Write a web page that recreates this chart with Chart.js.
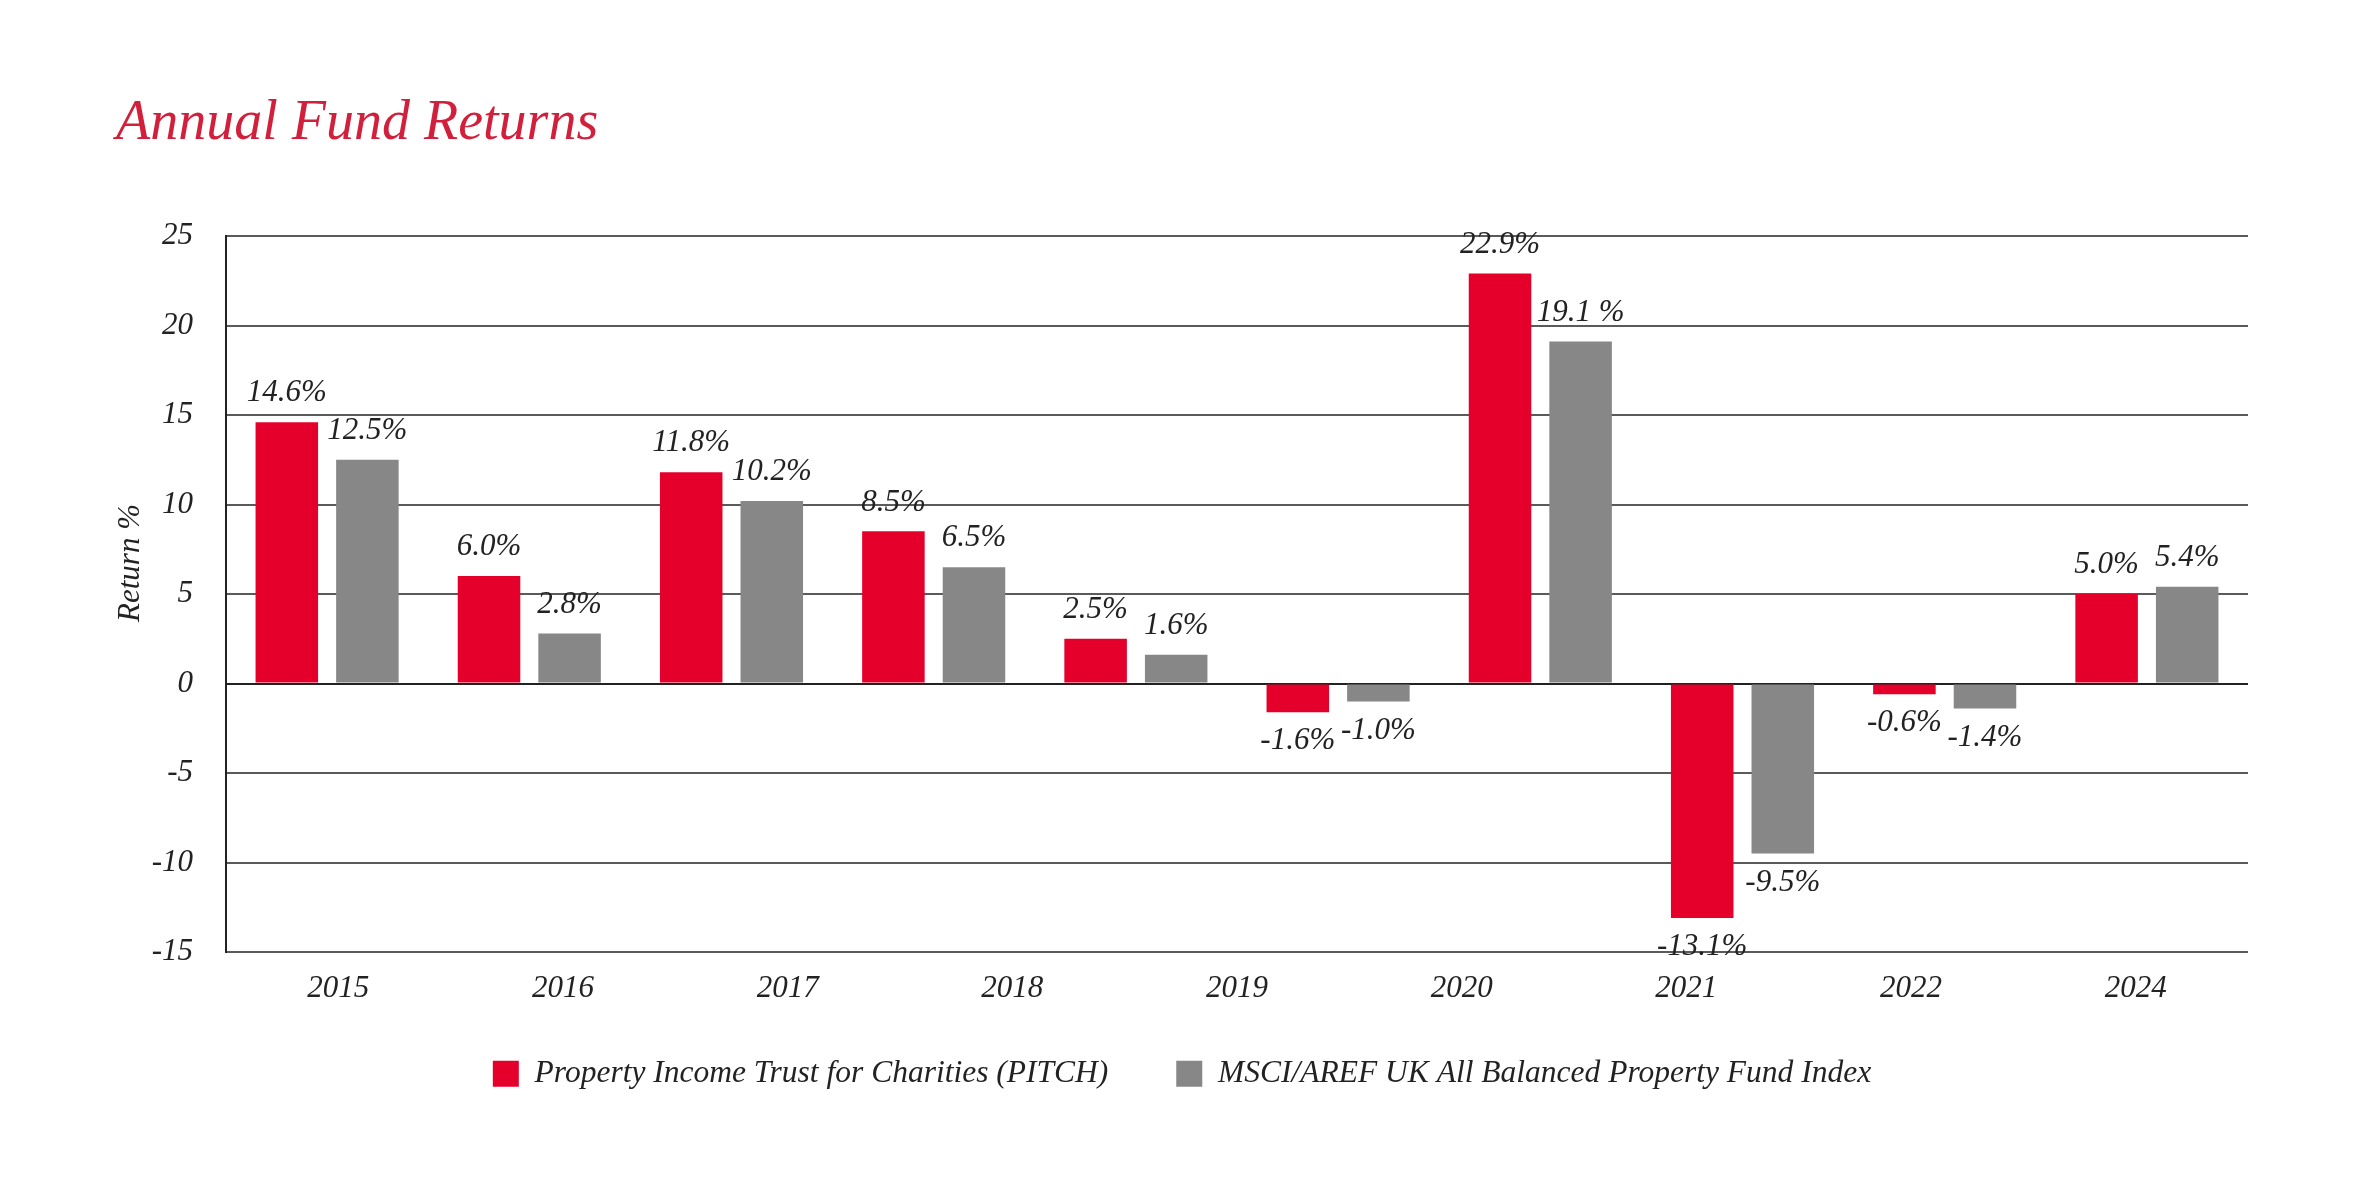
<!DOCTYPE html>
<html>
<head>
<meta charset="utf-8">
<script src="https://cdn.jsdelivr.net/npm/chart.js@4.4.1/dist/chart.umd.min.js"></script>
<style>
  html, body { margin: 0; padding: 0; background: #ffffff; }
  #wrap { width: 2362px; height: 1181px; position: relative; }
  canvas { display: block; }
</style>
</head>
<body>
<div id="wrap"><canvas id="c" width="2362" height="1181"></canvas></div>
<script>
// ---- Data ----
const periods = ['P1', 'P2', 'P3', 'P4', 'P5', 'P6', 'P7', 'P8', 'P9', 'P10'];
const tickLabels = ['2015', '2016', '2017', '2018', '2019', '2020', '2021', '2022', '2024'];
const pitchValues = [14.6, 6.0, 11.8, 8.5, 2.5, -1.6, 22.9, -13.1, -0.6, 5.0];
const msciValues = [12.5, 2.8, 10.2, 6.5, 1.6, -1.0, 19.1, -9.5, -1.4, 5.4];
const pitchText = ['14.6%', '6.0%', '11.8%', '8.5%', '2.5%', '-1.6%', '22.9%', '-13.1%', '-0.6%', '5.0%'];
const msciText = ['12.5%', '2.8%', '10.2%', '6.5%', '1.6%', '-1.0%', '19.1 %', '-9.5%', '-1.4%', '5.4%'];
const seriesNames = ['Property Income Trust for Charities (PITCH)', 'MSCI/AREF UK All Balanced Property Fund Index'];
const yTitle = 'Return %';
const chartTitle = 'Annual Fund Returns';

const SERIF = '"Liberation Serif", "DejaVu Serif", serif';
const RED = '#e4002b';
const GREY = '#878787';
const TEXT = '#222222';

const valueLabels = {
  id: 'valueLabels',
  afterDatasetsDraw(chart) {
    const ctx = chart.ctx;
    const texts = [pitchText, msciText];
    ctx.save();
    ctx.font = 'italic 31px ' + SERIF;
    ctx.fillStyle = TEXT;
    ctx.textAlign = 'center';
    ctx.textBaseline = 'middle';
    chart.data.datasets.forEach((ds, di) => {
      const meta = chart.getDatasetMeta(di);
      meta.data.forEach((el, i) => {
        const v = ds.data[i];
        const y = v >= 0 ? el.y - 29 : el.y + 29;
        ctx.fillText(texts[di][i], el.x, y);
      });
    });
    ctx.restore();
  }
};

new Chart(document.getElementById('c'), {
  type: 'bar',
  data: {
    labels: periods,
    datasets: [
      { label: seriesNames[0], data: pitchValues, backgroundColor: RED, xAxisID: 'x', yAxisID: 'y',
        barPercentage: 0.776, categoryPercentage: 0.797 },
      { label: seriesNames[1], data: msciValues, backgroundColor: GREY, xAxisID: 'x', yAxisID: 'y',
        barPercentage: 0.776, categoryPercentage: 0.797 }
    ]
  },
  options: {
    responsive: false,
    animation: false,
    devicePixelRatio: 1,
    layout: { padding: { left: 116, right: 114, top: 50, bottom: 81.5 } },
    plugins: {
      title: {
        display: true,
        text: chartTitle,
        align: 'start',
        color: '#d21f3c',
        font: { family: SERIF, size: 56, style: 'italic', weight: 'normal', lineHeight: 1.2 },
        padding: { top: 41, bottom: 77.8 }
      },
      legend: {
        display: true,
        position: 'bottom',
        labels: {
          color: TEXT,
          boxWidth: 26,
          boxHeight: 26,
          padding: 68,
          font: { family: SERIF, size: 31.5, style: 'italic' }
        }
      },
      tooltip: { enabled: false }
    },
    scales: {
      x: {
        type: 'category',
        display: false,
        offset: true
      },
      x2: {
        type: 'category',
        labels: tickLabels,
        position: 'bottom',
        offset: true,
        grid: { display: false, drawTicks: false },
        border: { display: false },
        ticks: { color: TEXT, mirror: true, padding: -55.6, font: { family: SERIF, size: 31, style: 'italic' }, maxRotation: 0, autoSkip: false },
        afterFit(scale) { scale.height = 38; }
      },
      y: {
        min: -15,
        max: 25,
        ticks: { stepSize: 5, color: TEXT, padding: 33, font: { family: SERIF, size: 31, style: 'italic' } },
        grid: {
          drawTicks: false,
          lineWidth: 2,
          color: (c) => (c.tick && c.tick.value === 0) ? '#222222' : '#5a5a5a'
        },
        border: { display: true, color: '#222222', width: 2 },
        title: {
          display: true,
          text: '\u2002\u2002\u2002\u2002' + yTitle,
          color: TEXT,
          font: { family: SERIF, size: 31, style: 'italic' },
          padding: { top: -4, bottom: 0 }
        },
        afterFit(scale) { scale.width = 110; }
      }
    }
  },
  plugins: [valueLabels]
});
</script>
</body>
</html>
